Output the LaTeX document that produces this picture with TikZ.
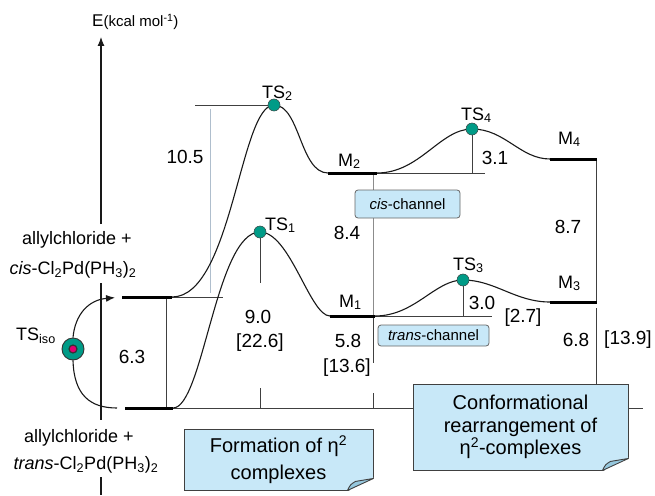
\documentclass[tikz,border=0pt]{standalone}
\usepackage{fontspec}
\setmainfont{Liberation Sans}
\usetikzlibrary{calc,arrows.meta}
\definecolor{tsgreen}{RGB}{0,155,135}
\definecolor{isopink}{RGB}{225,0,110}
\definecolor{notefill}{RGB}{200,232,248}
\definecolor{notedark}{RGB}{150,200,222}
\definecolor{refgrey}{RGB}{175,190,205}
\tikzset{
  level/.style={line width=3pt},
  pes/.style={line width=1.1pt, black!90},
  guide/.style={line width=0.8pt, black!75},
  tsdot/.style={circle, draw=black!70, fill=tsgreen, inner sep=0pt, minimum size=12pt},
  num/.style={inner sep=0pt, font=\fontsize{19}{22}\selectfont},
  lab/.style={inner sep=0pt, anchor=base west, font=\fontsize{18}{21}\selectfont},
  react/.style={inner sep=0pt, font=\fontsize{18}{21}\selectfont},
  chanbox/.style={draw=black!60, fill=notefill, rounded corners=3pt, line width=0.8pt, inner sep=0pt, font=\fontsize{15}{18}\selectfont},
  note/.style={draw=black!75, fill=notefill, line width=0.9pt, inner sep=0pt, align=center, font=\fontsize{20}{22.5}\selectfont},
}
% folded corner of a note
\newcommand{\foldcorner}[1]{%
  \fill[white] ($(#1.south east)+(-26,1)$) -- ($(#1.south east)+(1,1)$) -- ($(#1.south east)+(1,-13)$) -- cycle;
  \filldraw[fill=notedark, draw=black!75, line width=0.9pt, line join=round]
    ($(#1.south east)+(-26,0)$) .. controls ($(#1.south east)+(-23,-6)$) .. ($(#1.south east)+(-18,-9)$)
    -- ($(#1.south east)+(0,-12)$) -- cycle;
}
\begin{document}
\begin{tikzpicture}[x=1pt,y=-1pt]
  \useasboundingbox (0,0) rectangle (655,495);
  % Energy axis
  \draw[pes, -{Latex[length=9pt,width=7pt]}] (101,224) -- (101,37);
  \draw[pes] (101,283) -- (101,420);
  \draw[pes] (101,477) -- (101,495);
  \node[inner sep=0pt, anchor=base west] (elabel) at (92,27)
    {\fontsize{17}{20}\selectfont E\fontsize{15}{18}\selectfont(kcal mol\textsuperscript{-1})};
  % Levels
  \coordinate (cisL) at (122,297);  \coordinate (cisR) at (172,297);
  \coordinate (trL) at (125,408);   \coordinate (trR) at (173,408);
  \coordinate (M2L) at (328,173);   \coordinate (M2R) at (377,173);
  \coordinate (M1L) at (330,316);   \coordinate (M1R) at (375,316);
  \coordinate (M4L) at (550,159);   \coordinate (M4R) at (597,159);
  \coordinate (M3L) at (550,302);   \coordinate (M3R) at (597,302);
  \node[tsdot] (TS2) at (274,105) {};
  \node[tsdot] (TS1) at (260,232) {};
  \node[tsdot] (TS4) at (472,129) {};
  \node[tsdot] (TS3) at (463,280) {};
  % Guide lines
  \draw[guide] (cisR) -- (223,297);
  \draw[guide] (trR) -- (643,408);
  \draw[guide] (195,105) -- (TS2.center);
  \draw[line width=0.9pt, refgrey] (210,109) -- (210,293);
  \draw[guide] (166,297) -- (166,408);
  \draw[guide] (TS1.center) -- (260,283);
  \draw[guide] (260,388) -- (260,408);
  \draw[line width=0.8pt, black!45] (373,174) -- (373,316);
  \draw[guide] (373,316) -- (373,363);
  \draw[guide] (373,393) -- (373,408);
  \draw[guide] (M2R) -- (485,173);
  \draw[guide] (TS4.center) -- (TS4.center |- M2R);
  \draw[guide] (M1R) -- (492,316);
  \draw[guide] (TS3.center) -- (TS3.center |- M1R);
  \draw[guide] (596,159) -- (596,302);
  \draw[guide] (596,308) -- (596,384);
  % Energy profiles
  \draw[pes] (cisR) .. controls (232,297) and (240,105) .. (TS2.center)
    .. controls (300,105) and (300,173) .. (M2L);
  \draw[pes] (M2R) .. controls (420,173) and (440,129) .. (TS4.center)
    .. controls (505,129) and (520,159) .. (M4L);
  \draw[pes] (trR) .. controls (203,408) and (216,232) .. (TS1.center)
    .. controls (290,232) and (310,316) .. (M1L);
  \draw[pes] (M1R) .. controls (415,316) and (435,280) .. (TS3.center)
    .. controls (495,280) and (515,302) .. (M3L);
  \draw[level] (cisL) -- (cisR);
  \draw[level] (trL) -- (trR);
  \draw[level] (M2L) -- (M2R);
  \draw[level] (M1L) -- (M1R);
  \draw[level] (M4L) -- (M4R);
  \draw[level] (M3L) -- (M3R);
  \foreach \t in {TS1,TS2,TS3,TS4}
    \node[tsdot] at (\t) {};
  % Isomerisation
  \node[circle, draw=black!80, fill=tsgreen, minimum size=22pt, inner sep=0pt, line width=0.9pt] (TSiso) at (73,349) {};
  \node[circle, draw=black!80, fill=isopink, minimum size=8pt, inner sep=0pt, line width=1.2pt] (TSisoc) at (TSiso) {};
  \draw[pes, shorten >=7pt, -{Latex[length=9pt,width=7pt]}] (TSiso.north) .. controls (75,315) and (88,300) .. (cisL);
  \draw[pes, shorten >=8pt] (TSiso.south) .. controls (74,395) and (90,408) .. (trL);
  \node[lab] (isolab) at (16,340) {TS\textsubscript{iso}};
  % Reactants
  \node[react] (cisa) at (77,240) {allylchloride +};
  \node[react] (cisb) at (73,270) {\textit{cis}-Cl\textsubscript{2}Pd(PH\textsubscript{3})\textsubscript{2}};
  \node[react] (tra) at (79,438) {allylchloride +};
  \node[react] (trb) at (86,465) {\textit{trans}-Cl\textsubscript{2}Pd(PH\textsubscript{3})\textsubscript{2}};
  % Labels
  \node[lab] (ts2lab) at (262,98) {TS\textsubscript{2}};
  \node[lab] (ts1lab) at (265,230) {TS\textsubscript{1}};
  \node[lab] (ts4lab) at (461,120) {TS\textsubscript{4}};
  \node[lab] (ts3lab) at (453,270) {TS\textsubscript{3}};
  \node[lab] (m2lab) at (338,166) {M\textsubscript{2}};
  \node[lab] (m1lab) at (339,307) {M\textsubscript{1}};
  \node[lab] (m4lab) at (558,144) {M\textsubscript{4}};
  \node[lab] (m3lab) at (558,288) {M\textsubscript{3}};
  \node[num] (e105) at (185,157) {10.5};
  \node[num] (e90) at (258,317) {9.0};
  \node[num] (e226) at (260,343) {[22.6]};
  \node[num] (e63) at (132,357) {6.3};
  \node[num] (e84) at (347,233) {8.4};
  \node[num] (e58) at (348,341) {5.8};
  \node[num] (e136) at (347,368) {[13.6]};
  \node[num] (e31) at (495,158) {3.1};
  \node[num] (e30) at (482,303) {3.0};
  \node[num] (e27) at (523,318) {[2.7]};
  \node[num] (e87) at (568,227) {8.7};
  \node[num] (e68) at (576,340) {6.8};
  \node[num] (e139) at (628,340) {[13.9]};
  % Channel boxes
  \node[chanbox, minimum width=105pt, minimum height=28pt] (cisch) at (407.5,204) {\textit{cis}-channel};
  \node[chanbox, minimum width=111pt, minimum height=21pt] (transch) at (433.5,335.5) {\textit{trans}-channel};
  % Notes
  \node[note, minimum width=189pt, minimum height=61pt] (formbox) at (278.5,459.5) {Formation of η\textsuperscript{2}\\[4pt]complexes};
  \foldcorner{formbox}
  \node[note, minimum width=215pt, minimum height=86pt] (confbox) at (520.5,427) {Conformational\\rearrangement of\\η\textsuperscript{2}-complexes};
  \foldcorner{confbox}
\end{tikzpicture}
\end{document}
